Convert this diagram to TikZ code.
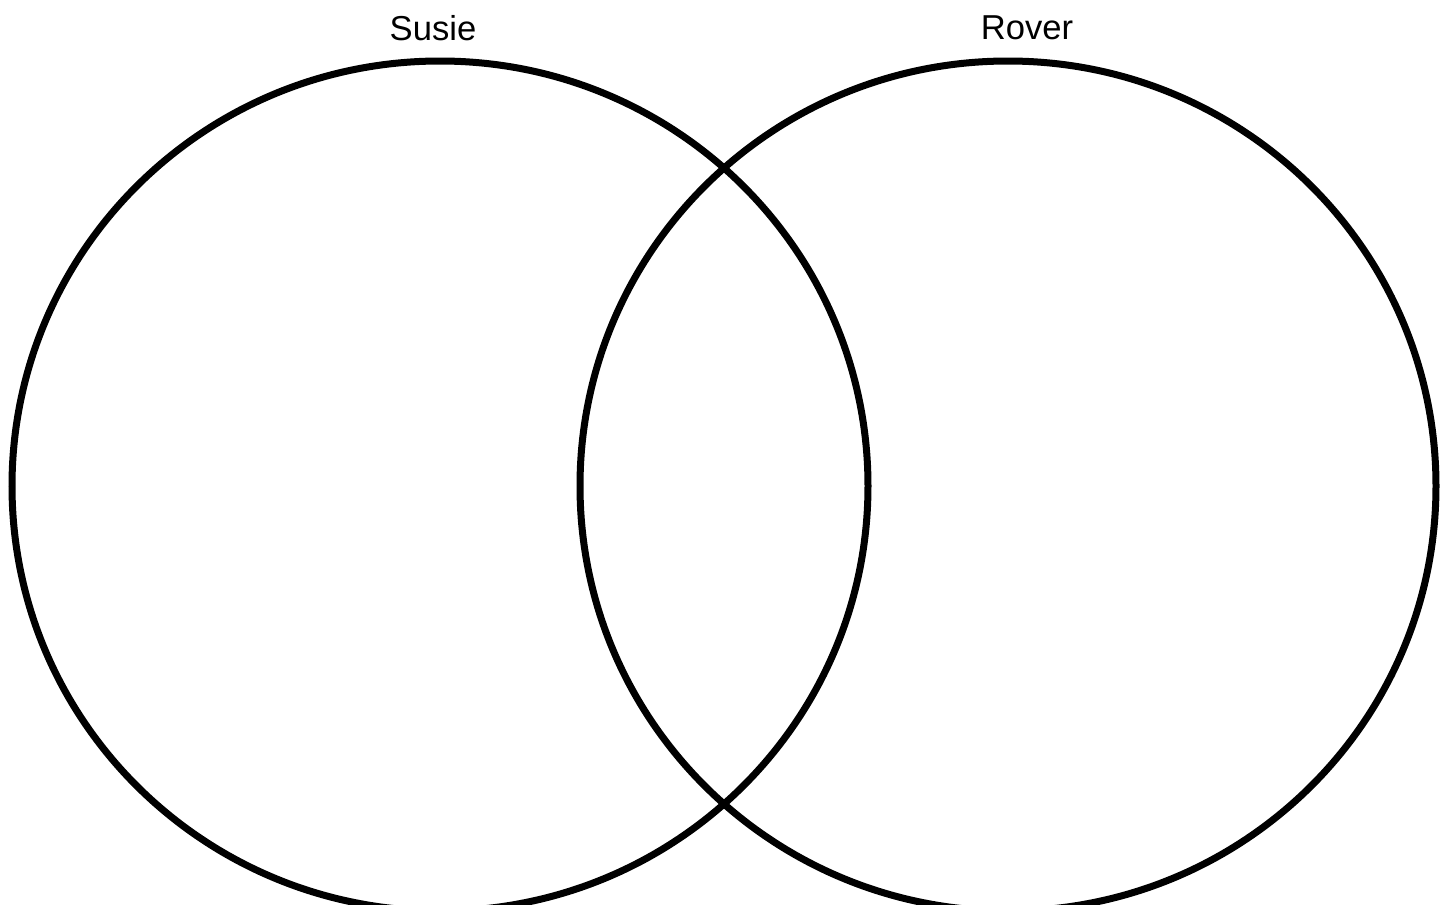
\documentclass[tikz,border=0pt]{standalone}
\usepackage{fontspec}
\setmainfont{Liberation Sans}
\usetikzlibrary{positioning}

\tikzset{
  setring/.style={draw=black,line width=3.5pt},
  setlabel/.style={font=\fontsize{17.3}{20}\selectfont,inner sep=0pt}
}

\begin{document}
\begin{tikzpicture}[x=0.5pt,y=-0.5pt]
  \useasboundingbox (0,0) rectangle (1447,905);
  \clip (0,0) rectangle (1447,905);
  % Sets
  \draw[setring] (440,486) ellipse [x radius=428,y radius=425];
  \draw[setring] (1008,486) ellipse [x radius=428,y radius=425];
  % Labels
  \node[setlabel] (susie) at (433,28) {Susie};
  \node[setlabel] (rover) at (1027,28) {Rover};
\end{tikzpicture}
\end{document}
